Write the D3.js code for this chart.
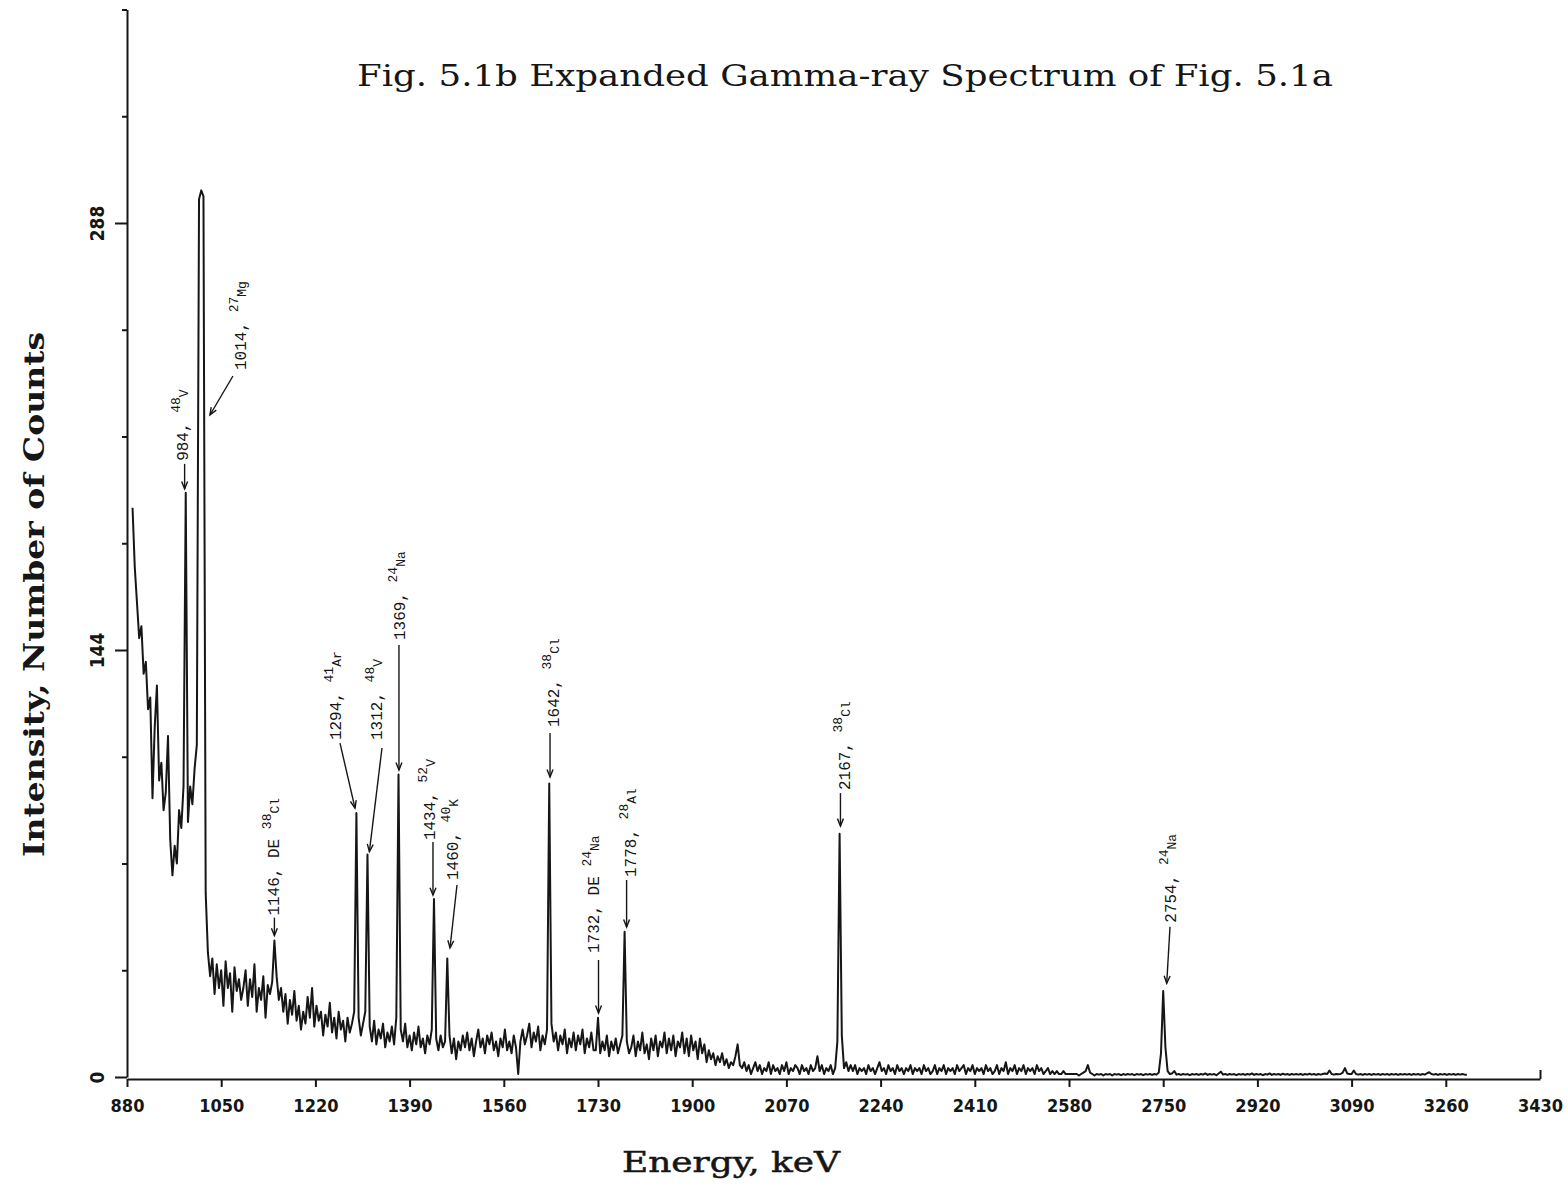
<!DOCTYPE html>
<html><head><meta charset="utf-8">
<script src="https://cdn.jsdelivr.net/npm/d3@7"></script>
<style>body{margin:0;background:#fff}svg text{white-space:pre}</style>
</head><body>
<svg id="chart" width="1568" height="1199"></svg>
<script>
// ---------------- DATA ----------------
const energyStart = 890;   // keV of first channel
const energyStep = 4;      // keV per channel
const counts = [
  192,172,160,148,152,136,140,124,128,94,118,132,100,106,90,96,115,80,68,78,72,90,84,98,197,
  86,98,92,104,112,296,299,297,62,42,34,40,28,38,30,36,24,39,30,35,22,37,29,33,26,
  30,36,24,33,27,38,22,30,26,34,20,31,28,32,46,34,26,30,22,28,18,26,21,29,19,
  24,16,22,18,27,20,30,17,24,19,22,14,21,17,25,15,20,13,22,16,19,12,20,15,18,
  22,89,20,14,18,22,75,17,12,19,11,16,13,18,10,15,12,17,11,20,102,16,12,18,10,
  14,9,15,11,17,10,13,8,14,11,16,60,13,9,14,10,12,40,14,8,13,6,12,9,14,
  10,15,9,13,7,12,16,10,13,8,14,11,15,9,12,7,13,10,16,9,12,8,14,10,1,
  12,16,11,14,18,10,15,12,17,9,14,11,16,99,18,12,15,9,14,11,16,8,13,10,15,
  9,14,11,16,8,13,10,15,9,9,20,8,12,9,14,7,12,9,13,8,11,14,49,12,8,
  10,14,7,12,9,15,8,11,6,13,9,14,7,12,10,15,8,13,9,14,7,12,10,15,8,
  13,7,14,9,12,6,13,8,11,5,9,6,8,4,7,5,8,4,6,3,5,4,7,11,4,
  3,5,2,4,1,3,5,2,4,1,3,2,5,1,4,2,3,1,4,2,5,1,3,2,4,
  3,1,4,2,3,1,4,2,3,7,2,4,1,3,2,4,1,3,12,82,14,3,5,2,4,
  2,4,1,3,2,3,1,4,2,3,1,3,5,2,3,1,4,2,3,1,4,2,3,1,3,
  2,4,1,3,2,3,1,4,2,3,1,2,4,1,3,2,4,1,3,2,3,1,4,2,3,
  4,1,3,2,4,1,3,2,3,1,4,2,3,1,2,4,1,3,2,5,1,3,2,4,1,
  3,2,4,1,3,2,3,1,4,2,3,1,2,3,1,2,1,2,1,1,2,1,1,1,1,
  1,1,0.5,1,1.5,2,4,1.5,1,0.5,1,0.8,1,0.5,1,0.8,1,0.5,1,0.8,1,0.6,1,0.7,1,
  0.8,1,0.6,1,0.8,1,0.6,1,0.8,1,0.7,1,0.8,1.5,8,29,10,2,1,1.2,2,0.8,1,0.7,1,
  0.8,1,0.6,1,0.8,1,0.7,1,0.8,1.2,0.7,1,0.8,1,0.6,1.2,1.8,0.8,1,0.7,1,0.8,1,0.6,1,
  0.8,1,0.7,1,0.8,1.2,0.7,1,0.8,1,0.6,1,0.8,1.2,0.7,1,0.8,1,0.7,1.1,0.8,1,0.7,1,0.8,
  1,0.8,1,0.7,1,0.8,1.1,0.8,1,0.7,1,0.8,1,1.2,1,2.2,1,0.8,1,0.9,1,1.5,3,1.2,1,
  1,2.2,1,0.8,1,0.7,1,0.8,1,0.7,1,0.8,1,0.7,1,0.8,1,0.7,1,0.8,1,0.7,1,0.8,1,
  0.8,1,0.7,1,0.8,1,0.7,1,0.8,1.2,1.6,1,0.8,1,0.7,1,0.8,1,0.7,1,0.8,1,0.7,1,0.8,
  1,0.8,0.8
];
const xTickValues = [880,1050,1220,1390,1560,1730,1900,2070,2240,2410,2580,2750,2920,3090,3260,3430];
const yTickValues = [0,36,72,108,144,180,216,252,288,324,360];
const yLabelValues = [0,144,288];
const peakEnergies = [984,1014,1146,1294,1312,1369,1434,1460,1642,1732,1778,2167,2754];
const peakNumbers  = ["984,","1014,","1146,","1294,","1312,","1369,","1434,","1460,","1642,","1732,","1778,","2167,","2754,"];
const peakPrefix   = ["","","DE ","","","","","","","DE ","","",""];
const peakMass     = ["48","27","38","41","48","24","52","40","38","24","28","38","24"];
const peakElement  = ["V","Mg","Cl","Ar","V","Na","V","K","Cl","Na","Al","Cl","Na"];
const titleText = "Fig. 5.1b Expanded Gamma-ray Spectrum of Fig. 5.1a";
const xTitle = "Energy, keV";
const yTitle = "Intensity, Number of Counts";

// ---------------- LAYOUT (pixel offsets for annotations) ----------------
// tip = peak top + (tdx,tdy); tail = tip + (adx,ady); text baseline/bottom = tail + (bdx,bdy)
const labelLayout = [
  {tdx:0,   tdy:-4,   adx:0,    ady:-25,   bdx:3,    bdy:-3},
  {tdx:8.7, tdy:224.6,adx:23,   ady:-39,   bdx:13.5, bdy:-6},
  {tdx:0,   tdy:-5,   adx:0,    ady:-18,   bdx:5,    bdy:-2},
  {tdx:-1.4,tdy:-5,   adx:-15,  ady:-65,   bdx:0.5,  bdy:-3},
  {tdx:3,   tdy:-3,   adx:12.6, ady:-103.6,bdx:0.5,  bdy:-8},
  {tdx:1,   tdy:-4.5, adx:0,    ady:-125,  bdx:6,    bdy:-5},
  {tdx:-1,  tdy:-4,   adx:0,    ady:-53,   bdx:2.5,  bdy:-2},
  {tdx:1.6, tdy:-10.4,adx:7,    ady:-63,   bdx:1.5,  bdy:-5},
  {tdx:0.8, tdy:-6.4, adx:0,    ady:-44,   bdx:8.5,  bdy:-6},
  {tdx:-0.6,tdy:-4.7, adx:0,    ady:-53,   bdx:0,    bdy:-7},
  {tdx:2,   tdy:-4.7, adx:0,    ady:-47,   bdx:9,    bdy:-3},
  {tdx:0.3, tdy:-7.8, adx:0,    ady:-33,   bdx:10,   bdy:-3},
  {tdx:1.3, tdy:-7.7, adx:3.3,  ady:-56.6, bdx:5.5,  bdy:-4}
];

// ---------------- DRAW ----------------
const W = 1568, H = 1199;
const ink = "#161616";
const svg = d3.select("#chart");
svg.append("rect").attr("width", W).attr("height", H).attr("fill", "#fff");

const x = d3.scaleLinear().domain([880, 3430]).range([127, 1540]);
const y = d3.scaleLinear().domain([0, 360]).range([1077, 9.5]);

const spectrum = counts.map((c, i) => [energyStart + i * energyStep, c]);

// spectrum line
svg.append("path").datum(spectrum)
  .attr("d", d3.line().x(d => x(d[0])).y(d => y(d[1])))
  .attr("fill", "none").attr("stroke", ink).attr("stroke-width", 2)
  .attr("stroke-linejoin", "round");

// x axis
const xAxis = svg.append("g").attr("transform", "translate(0,1079)")
  .call(d3.axisBottom(x).tickValues(xTickValues).tickSize(8).tickSizeOuter(0).tickPadding(12).tickFormat(d3.format("d")));
xAxis.select(".domain").attr("stroke", ink).attr("stroke-width", 2);
xAxis.selectAll(".tick line").attr("stroke", ink).attr("stroke-width", 2)
  .filter(d => d === 3430).attr("y2", -9);
xAxis.selectAll(".tick text").attr("fill", ink)
  .attr("font-family", "DejaVu Sans Condensed, DejaVu Sans, sans-serif")
  .attr("font-weight", "bold").attr("font-size", 18);

// y axis
const yAxis = svg.append("g").attr("transform", "translate(127,0)")
  .call(d3.axisLeft(y).tickValues(yTickValues).tickSize(5).tickSizeOuter(0)
    .tickFormat(d => yLabelValues.includes(d) ? String(d) : ""));
yAxis.select(".domain").attr("stroke", ink).attr("stroke-width", 2);
yAxis.selectAll(".tick line").attr("stroke", ink).attr("stroke-width", 2)
  .attr("x2", d => yLabelValues.includes(d) ? -12 : -5);
yAxis.selectAll(".tick text").attr("fill", ink)
  .attr("font-family", "DejaVu Sans Condensed, DejaVu Sans, sans-serif")
  .attr("font-weight", "bold").attr("font-size", 19)
  .attr("transform", "rotate(-90)").attr("x", 0).attr("y", -23).attr("dy", 0)
  .attr("text-anchor", "middle");

// titles
svg.append("text").attr("x", 357).attr("y", 86)
  .attr("font-family", "DejaVu Serif, serif").attr("font-size", 29)
  .attr("fill", ink).attr("textLength", 976).attr("lengthAdjust", "spacingAndGlyphs")
  .text(titleText);
svg.append("text").attr("x", 622).attr("y", 1172)
  .attr("font-family", "DejaVu Serif, serif").attr("font-size", 27)
  .attr("fill", ink).attr("stroke", ink).attr("stroke-width", 0.5)
  .attr("textLength", 218).attr("lengthAdjust", "spacingAndGlyphs")
  .text(xTitle);
svg.append("text").attr("transform", "translate(44,857) rotate(-90)")
  .attr("font-family", "DejaVu Serif, serif").attr("font-weight", "bold").attr("font-size", 28)
  .attr("fill", ink).attr("textLength", 525).attr("lengthAdjust", "spacingAndGlyphs")
  .text(yTitle);

// annotations
function peakHeight(e) {
  let m = 0;
  spectrum.forEach(d => { if (Math.abs(d[0] - e) <= 6 && d[1] > m) m = d[1]; });
  return m;
}
const ann = svg.append("g").attr("fill", ink)
  .attr("font-family", "Liberation Mono, DejaVu Sans Mono, monospace");
peakEnergies.forEach((e, i) => {
  const L = labelLayout[i];
  const px = x(e), py = y(peakHeight(e));
  const tip = [px + L.tdx, py + L.tdy];
  const tail = [tip[0] + L.adx, tip[1] + L.ady];
  ann.append("line").attr("x1", tail[0]).attr("y1", tail[1]).attr("x2", tip[0]).attr("y2", tip[1])
    .attr("stroke", ink).attr("stroke-width", 1.4);
  const a = Math.atan2(tip[1] - tail[1], tip[0] - tail[0]);
  const hl = 8, ha = 0.38;
  const p1 = [tip[0] - hl * Math.cos(a - ha), tip[1] - hl * Math.sin(a - ha)];
  const p2 = [tip[0] - hl * Math.cos(a + ha), tip[1] - hl * Math.sin(a + ha)];
  ann.append("path").attr("d", `M${p1[0]},${p1[1]}L${tip[0]},${tip[1]}L${p2[0]},${p2[1]}`)
    .attr("fill", "none").attr("stroke", ink).attr("stroke-width", 1.4);
  const t = ann.append("text")
    .attr("transform", `translate(${tail[0] + L.bdx},${tail[1] + L.bdy}) rotate(-90)`)
    .attr("font-size", 16);
  t.append("tspan").text(peakNumbers[i] + " " + peakPrefix[i]);
  t.append("tspan").attr("font-size", 13).attr("dy", -8).text(peakMass[i]);
  t.append("tspan").attr("font-size", 13).attr("dy", 8).text(peakElement[i]);
});
</script>
</body></html>
